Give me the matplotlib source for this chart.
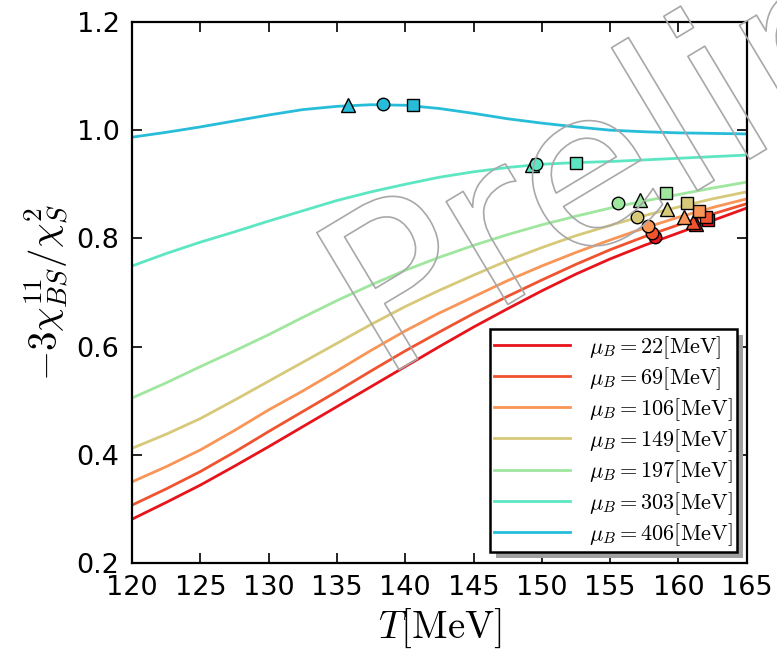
import numpy as np
import matplotlib
matplotlib.use("Agg")
import matplotlib.pyplot as plt
from matplotlib.patches import Rectangle
from matplotlib.transforms import IdentityTransform
import matplotlib.patheffects as pe

plt.rcParams['mathtext.fontset'] = 'cm'
plt.rcParams['font.family'] = ['DejaVu Sans']

# ---------------- data ----------------
T = [120, 122.5, 125, 127.5, 130, 132.5, 135, 137.5, 140, 142.5,
     145, 147.5, 150, 152.5, 155, 157.5, 160, 162.5, 165]

muB = [22, 69, 106, 149, 197, 303, 406]

ratio_22 = [0.281, 0.312, 0.344, 0.379, 0.415, 0.452, 0.489, 0.526, 0.563, 0.600,
            0.636, 0.670, 0.703, 0.734, 0.762, 0.787, 0.810, 0.833, 0.856]
ratio_69 = [0.307, 0.337, 0.369, 0.405, 0.443, 0.480, 0.517, 0.555, 0.592, 0.627,
            0.661, 0.693, 0.723, 0.752, 0.779, 0.803, 0.825, 0.845, 0.864]
ratio_106 = [0.350, 0.378, 0.409, 0.445, 0.483, 0.518, 0.555, 0.593, 0.629, 0.662,
             0.692, 0.722, 0.749, 0.774, 0.797, 0.819, 0.839, 0.857, 0.873]
ratio_149 = [0.412, 0.438, 0.467, 0.501, 0.536, 0.571, 0.606, 0.641, 0.674, 0.704,
             0.732, 0.759, 0.783, 0.805, 0.824, 0.842, 0.858, 0.873, 0.886]
ratio_197 = [0.505, 0.533, 0.563, 0.592, 0.622, 0.654, 0.685, 0.714, 0.741, 0.765,
             0.787, 0.807, 0.825, 0.841, 0.856, 0.869, 0.881, 0.893, 0.904]
ratio_303 = [0.749, 0.772, 0.793, 0.812, 0.832, 0.851, 0.870, 0.886, 0.900, 0.913,
             0.923, 0.931, 0.937, 0.940, 0.942, 0.945, 0.948, 0.951, 0.954]
ratio_406 = [0.987, 0.996, 1.006, 1.017, 1.028, 1.038, 1.044, 1.047, 1.046, 1.040,
             1.031, 1.021, 1.013, 1.006, 1.000, 0.997, 0.995, 0.994, 0.993]

# pseudo-critical points (T, value) for each muB: circle, triangle, square
circle_T = [158.3, 158.1, 157.8, 157.0, 155.6, 149.6, 138.4]
circle_y = [0.802, 0.809, 0.822, 0.840, 0.865, 0.937, 1.048]
triangle_T = [161.3, 161.1, 160.4, 159.2, 157.2, 149.3, 135.8]
triangle_y = [0.827, 0.831, 0.840, 0.854, 0.871, 0.936, 1.047]
square_T = [162.2, 162.0, 161.5, 160.6, 159.1, 152.5, 140.6]
square_y = [0.834, 0.839, 0.851, 0.865, 0.883, 0.940, 1.047]

colors = ['#e8141c', '#f0532f', '#f99557', '#d6c97a', '#9fe69f', '#5ce6c2', '#27bdd8']

series = [ratio_22, ratio_69, ratio_106, ratio_149, ratio_197, ratio_303, ratio_406]

# ---------------- figure ----------------
fig = plt.figure(figsize=(7.77, 6.59), dpi=100)
ax = fig.add_axes([0.170, 0.1457, 0.791, 0.821])

for mu, vals, c in zip(muB, series, colors):
    ax.plot(T, vals, color=c, lw=2.0, label=r'$\mu_B=%d[\mathrm{MeV}]$' % mu, zorder=2)

for i, c in enumerate(colors):
    ax.plot(triangle_T[i], triangle_y[i], marker='^', ms=9.5, color=c, mec='k', mew=1.0, ls='none', zorder=3)
    ax.plot(circle_T[i], circle_y[i], marker='o', ms=9, color=c, mec='k', mew=1.0, ls='none', zorder=3)
    ax.plot(square_T[i], square_y[i], marker='s', ms=9, color=c, mec='k', mew=1.0, ls='none', zorder=3)

ax.set_xlim(120, 165)
ax.set_ylim(0.2, 1.2)
ax.set_xticks(np.arange(120, 166, 5))
ax.set_yticks(np.arange(0.2, 1.21, 0.2))
ax.tick_params(direction='in', length=7, width=1.2, labelsize=19.5, pad=9,
               top=True, right=True)
for s in ax.spines.values():
    s.set_linewidth(1.6)

ax.set_xlabel(r'$T[\mathrm{MeV}]$', fontsize=28, labelpad=4)
ax.set_ylabel(r'$-3\chi^{11}_{BS}/\chi^{2}_{S}$', fontsize=28, labelpad=4)

leg = ax.legend(loc='lower right', bbox_to_anchor=(0.984, 0.020), borderaxespad=0,
                fontsize=16, handlelength=3.4, handletextpad=0.85, labelspacing=0.2,
                borderpad=0.2, fancybox=False, framealpha=1, edgecolor='k')
leg.get_frame().set_linewidth(1.8)

fig.canvas.draw()
bb = leg.get_window_extent()
sh = Rectangle((bb.x0 + 6, bb.y0 - 6), bb.width, bb.height, transform=IdentityTransform(),
               facecolor='#a0a0a0', edgecolor='none', zorder=4.9, clip_on=False)
ax.add_patch(sh)

# watermark
fig.text(0.49, 0.422, 'Preliminary', rotation=31, rotation_mode='anchor',
         ha='left', va='baseline', fontsize=158, color='none', zorder=10,
         path_effects=[pe.withStroke(linewidth=1.2, foreground='#a8a8a8')])

fig.savefig('out.png', dpi=100)
